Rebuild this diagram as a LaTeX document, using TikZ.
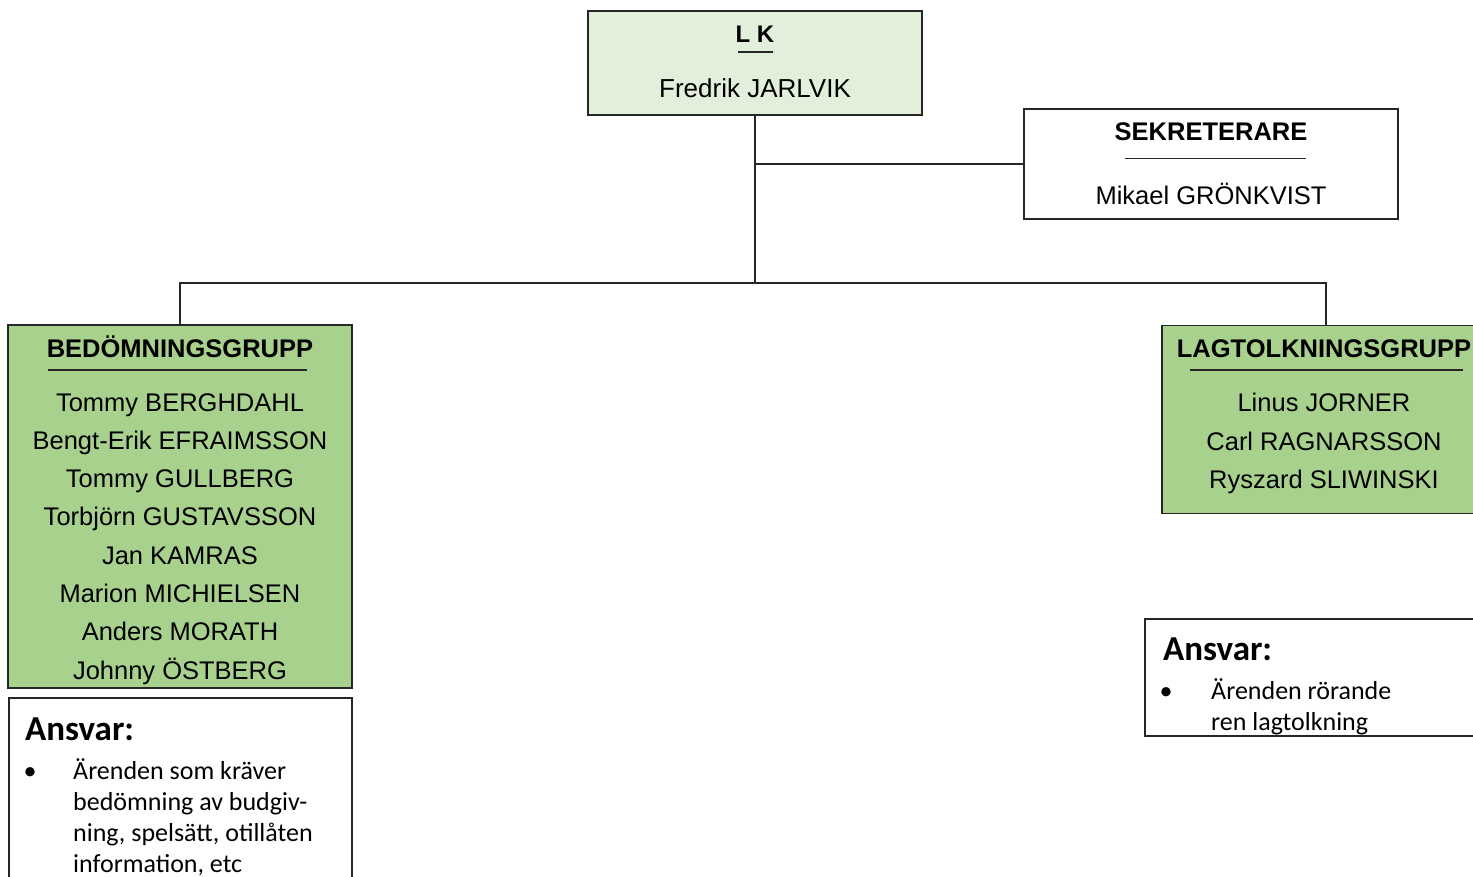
\documentclass[tikz,border=0pt]{standalone}
\usepackage{fontspec}
\setmainfont{Liberation Sans}
\newfontfamily\calib{Carlito}
\definecolor{lkgreen}{HTML}{E2EFDA}
\definecolor{grpgreen}{HTML}{A9D18E}
\definecolor{edge}{HTML}{262626}
\begin{document}
\begin{tikzpicture}[x=1pt,y=-1pt,
  box/.style={draw=edge, line width=1.6pt, inner sep=0pt, outer sep=0pt, rectangle},
  lkbox/.style={box, fill=lkgreen},
  grpbox/.style={box, fill=grpgreen},
  wbox/.style={box, fill=white},
  conn/.style={draw=edge, line width=1.4pt},
  rule/.style={draw=edge, line width=1.2pt},
  ttl/.style={font=\fontsize{25.5}{30}\selectfont\bfseries, anchor=base, inner sep=0pt},
  nm/.style={font=\fontsize{25.5}{38.3}\selectfont, anchor=base, inner sep=0pt, align=center},
  anshead/.style={font=\calib\fontsize{35}{40}\selectfont\bfseries, anchor=base west, inner sep=0pt},
  ansbody/.style={font=\calib\fontsize{26}{31.3}\selectfont, anchor=base west, inner sep=0pt, align=left},
  bullet/.style={font=\calib\fontsize{26}{31.3}\selectfont, anchor=base, inner sep=0pt}
]
\useasboundingbox (0,0) rectangle (1473,877);
\clip (0,0) rectangle (1473,877);

% boxes
\node[lkbox, minimum width=334pt, minimum height=104pt] (LK) at (755,63) {};
\node[wbox, minimum width=374pt, minimum height=110pt] (SEK) at (1211,164) {};
\node[grpbox, minimum width=344pt, minimum height=363pt] (BED) at (180,506.5) {};
\node[grpbox, minimum width=328pt, minimum height=188pt] (LAG) at (1326,419.5) {};
\node[wbox, minimum width=343pt, minimum height=220pt] (ANSL) at (180.5,808) {};
\node[wbox, minimum width=345pt, minimum height=117pt] (ANSR) at (1317.5,677.5) {};

% connectors
\coordinate (busC) at (755,283);
\coordinate (busL) at (180,283);
\coordinate (busR) at (1326,283);
\draw[conn] (LK.south) -- (busC);
\draw[conn] (LK.south |- SEK.west) -- (SEK.west);
\draw[conn] (BED.north) -- (busL) -- (busR) -- (LAG.north);

% LK
\node[ttl, font=\fontsize{24}{28}\selectfont\bfseries] (lkt) at (755,42.7) {L K};
\draw[rule] (738,52) -- (773,52);
\node[nm, font=\fontsize{26}{30}\selectfont] (lkn) at (755,97.3) {Fredrik JARLVIK};

% SEK
\node[ttl] (sekt) at (1211,140.5) {SEKRETERARE};
\draw[rule] (1125,158.3) -- (1306,158.3);
\node[nm] (sekn) at (1211,205) {Mikael GRÖNKVIST};

% BED (anchor base = last line's baseline)
\node[ttl] (bedt) at (180,357.3) {BEDÖMNINGSGRUPP};
\draw[rule] (48,370) -- (307,370);
\node[nm] (bedn) at (180,679.1) {Tommy BERGHDAHL\\Bengt-Erik EFRAIMSSON\\Tommy GULLBERG\\Torbjörn GUSTAVSSON\\Jan KAMRAS\\Marion MICHIELSEN\\Anders MORATH\\Johnny ÖSTBERG};

% LAG
\node[ttl] (lagt) at (1324,357.7) {LAGTOLKNINGSGRUPP};
\draw[rule] (1190,370) -- (1463,370);
\node[nm] (lagn) at (1324,488.3) {Linus JORNER\\Carl RAGNARSSON\\Ryszard SLIWINSKI};

% Ansvar left
\node[anshead] (anslh) at (25,740) {Ansvar:};
\node[bullet] (anslb) at (30,779) {•};
\node[ansbody] (anslt) at (73,872.9) {Ärenden som kräver\\bedömning av budgiv-\\ning, spelsätt, otillåten\\information, etc};

% Ansvar right
\node[anshead] (ansrh) at (1163,660) {Ansvar:};
\node[bullet] (ansrb) at (1166,699) {•};
\node[ansbody] (ansrt) at (1211,730.3) {Ärenden rörande\\ren lagtolkning};
\end{tikzpicture}
\end{document}
